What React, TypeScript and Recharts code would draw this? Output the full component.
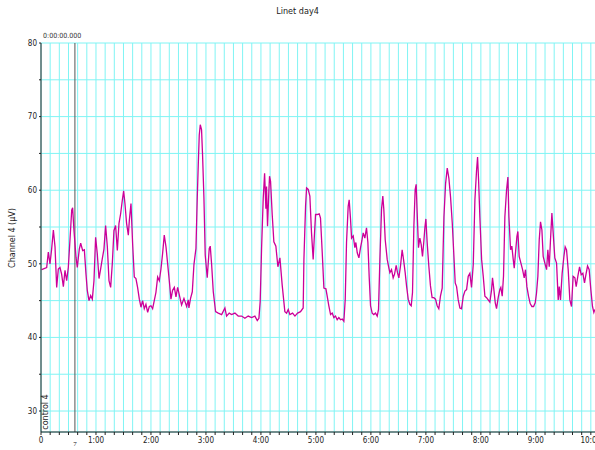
import React from "react";
import { LineChart, Line, XAxis, YAxis, CartesianGrid, ReferenceLine } from "recharts";

// elapsed time in seconds
const secs = [
  0.7, 6.2, 8, 9.8, 11.6, 13.5, 15.3, 17.1, 18.9, 20.7, 22.5, 24.4, 26.2, 28, 29.8, 31.6, 33.5, 34.5, 36, 38.2,
  39.6, 41.8, 43.3, 45.5, 47.3, 49.1, 50.5, 52.4, 54.2, 56, 57.8, 59.6, 61.4, 63.3, 65.1, 66.9, 68.7, 70.5, 72.4, 74.2,
  76, 77.8, 79.6, 81.4, 83.3, 85.1, 86.9, 88.7, 90.2, 91.6, 93.4, 95.3, 96.4, 98.2, 100, 101.8, 103.6, 105.4, 107.3, 109.1,
  110.9, 112.7, 114.5, 116.4, 118.2, 120, 121.8, 123.6, 125.4, 127.3, 129.1, 130.9, 132.7, 134.5, 136.4, 138.2, 140, 141.8, 143.6, 145.5,
  147.3, 149.1, 153.4, 156, 158.9, 160.7, 161.4, 163.2, 165.1, 166.9, 169.1, 170.5, 171.6, 172.7, 173.8, 175.2, 176.3, 177.8, 179.2, 181.4,
  183.6, 184.7, 186.2, 188, 190.5, 193.4, 197.1, 200.7, 202.5, 205.4, 208, 211.6, 215.2, 218.9, 222.5, 226.1, 229.8, 233.4, 236, 237.8,
  239.2, 240.7, 242.5, 244, 245.4, 246.1, 247.2, 248.7, 249.4, 250.5, 252.3, 254.1, 256.3, 258.5, 260.7, 263.2, 266.1, 268, 269.8, 271.6,
  274.5, 277.1, 280, 283.2, 286.1, 286.9, 288.7, 289.8, 291.6, 293.4, 295.2, 297, 298.1, 299.6, 301.4, 303.6, 305, 306.9, 308.7, 310.9,
  312.3, 314.1, 316, 317.8, 319.6, 321.4, 323.2, 325, 326.9, 328.7, 330.5, 332, 333.4, 335.2, 336.3, 337.8, 338.9, 340.7, 342.5, 343.6,
  345.1, 346.9, 348.7, 350.1, 351.6, 353.4, 355.2, 356.7, 358.1, 359.6, 361.4, 363.2, 365, 366.9, 368.3, 369.8, 371.6, 373, 374.1, 375.6,
  377.8, 379.2, 380.7, 382.5, 384.3, 385.8, 387.6, 389, 390.5, 392.3, 394.1, 395.6, 397.4, 398.9, 400.7, 402.5, 404, 405.4, 406.9, 408.3,
  409.4, 410.5, 411.9, 413.4, 414.9, 416.3, 417.8, 418.9, 420, 421.4, 423.2, 425, 426.8, 428.7, 430.5, 432.3, 434.1, 435.9, 437.8, 439.7,
  441.5, 443.3, 445.1, 446.9, 448.8, 450.6, 452, 453.5, 455.3, 457.1, 458.9, 460.8, 462.6, 464.4, 466.2, 468, 469.8, 471.7, 473.5, 475.3,
  476.4, 477.5, 478.9, 480.8, 482.6, 484.4, 486.2, 488, 489.8, 491.7, 492.7, 494.2, 495.7, 497.1, 498.9, 500.7, 501.8, 503.3, 504.7, 506.2,
  508, 509.5, 510.6, 512.4, 513.8, 515.3, 516.4, 517.8, 519.3, 520.4, 521.8, 523.7, 525.5, 527.3, 528.7, 530.2, 532, 533.8, 535.7, 537.5,
  539.3, 540.7, 542.2, 543.7, 545.1, 546.6, 548, 549.8, 551.7, 553.1, 554.6, 556, 557.5, 558.9, 560.7, 562.6, 564.4, 565.5, 566.9, 568.7,
  570.6, 572, 573.5, 575.3, 577.1, 578.9, 580.7, 582.6, 584, 585.8, 587.7, 589.5, 591.3, 593.1, 594.6, 596.4, 598.2, 600, 601.8, 603.3,
  604.4,
];

// Channel 4 amplitude (µV)
const channel4 = [
  49.2, 49.5, 51.6, 50.0, 52.0, 54.6, 52.3, 46.8, 49.3, 49.5, 48.6, 46.9, 49.1, 47.7, 49.5, 53.2, 57.3, 57.6, 54.5, 50.9,
  49.5, 52, 52.8, 51.8, 51.9, 48.6, 46.4, 45, 45.7, 45.2, 47.7, 53.6, 51.4, 48, 49.3, 50.7, 52, 55.2, 52.3, 47.7,
  46.8, 50, 54.5, 55.2, 51.8, 55.5, 56.8, 58.6, 59.9, 58.2, 55.5, 53.9, 55.9, 58.2, 52.7, 48.2, 48, 46.8, 45.2, 44.1,
  45, 43.9, 44.5, 43.4, 44.2, 44.3, 43.9, 45, 46.1, 48.2, 47.7, 49.3, 51.4, 53.9, 52.3, 50, 47.7, 45.2, 46.4, 46.8,
  45.5, 46.8, 44.4, 45.3, 44.2, 45.1, 44.0, 45.3, 46.2, 49.9, 52.1, 58.9, 63.4, 67.5, 68.9, 68.2, 64.8, 58.9, 51.2, 48.1,
  52.1, 52.4, 49.9, 46.2, 43.5, 43.3, 43.1, 44.0, 42.9, 43.3, 43.1, 43.3, 42.9, 42.9, 42.6, 42.9, 42.7, 42.9, 42.3, 42.6,
  44.9, 52.1, 58.9, 62.3, 57.5, 60.5, 55.1, 60, 61.9, 61.2, 56.7, 53.0, 52.4, 49.6, 50.8, 47.1, 43.5, 43.3, 43.8, 43.1,
  43.3, 42.9, 43.3, 43.5, 44.0, 50.6, 57.8, 60.3, 60.1, 59.2, 54.2, 50.6, 53.3, 56.7, 56.7, 56.8, 56.2, 51.5, 46.7, 46.6,
  45.6, 44.3, 43.1, 43.3, 42.7, 42.9, 42.4, 42.7, 42.4, 42.5, 42.2, 45.2, 52.9, 57.8, 58.7, 56, 53.5, 53.8, 52.2, 52.9,
  51.5, 50.8, 52.2, 53.1, 54.2, 53.5, 54.9, 52.9, 48.3, 44.3, 43.3, 43.1, 43.3, 42.9, 43.8, 50.6, 57.4, 59.2, 57.4, 53.3,
  50.6, 49.7, 48.8, 49.2, 48.1, 48.6, 49.8, 48.8, 48.1, 49.7, 51.9, 50.6, 48.8, 47, 45.2, 44.5, 44.3, 46.1, 55.1, 60.1,
  60.8, 56.9, 52.2, 53.5, 52.6, 51, 53.1, 54.9, 56.1, 52.9, 49.7, 47, 45.4, 45.4, 45.2, 44.3, 43.9, 45.6, 46.7, 56.4,
  60.9, 63, 61.6, 59.1, 55.5, 51, 47.4, 46.9, 45.1, 44, 43.9, 45.6, 46.3, 46.5, 48.3, 48.7, 46.8, 49.9, 58.7, 62.7,
  64.5, 61.4, 56.4, 50.6, 48.3, 45.6, 45.4, 45.1, 44.8, 46.5, 48.1, 46.5, 44.7, 43.9, 45.4, 46.5, 46.8, 45.6, 48.3, 56.4,
  60, 61.8, 56.4, 51.9, 52.4, 50.6, 49.4, 51.5, 53.7, 54.4, 51, 50.1, 49.2, 48.1, 49.2, 46.9, 45.6, 44.6, 44.2, 44.2,
  44.7, 46, 48.3, 53.3, 55.7, 54.6, 51, 50.1, 49.2, 51.9, 49.6, 53.3, 56.9, 54.2, 50.8, 50.1, 45.1, 46.9, 45.1, 48.7,
  51, 52.3, 51.9, 49.2, 45.1, 44.2, 48.3, 48.1, 46.9, 48.3, 49.6, 48.5, 48.7, 47.4, 48.5, 49.7, 49.2, 46.5, 44.2, 43.4,
  43.8,
];

const yTicks = [30, 35, 40, 45, 50, 55, 60, 65, 70, 75, 80];
const yLabels = [30, 40, 50, 60, 70, 80];
const minuteLabels = ["0", "1:00", "2:00", "3:00", "4:00", "5:00", "6:00", "7:00", "8:00", "9:00", "10:00"];
const markerTime = 37;
const markerLabel = "7";

const data = secs.map((t, i) => ({ t, v: channel4[i] }));
const xTicks = Array.from({ length: 62 }, (_, i) => i * 10);

const narrow = "'Liberation Sans Narrow', 'DejaVu Sans Condensed', sans-serif";

const fmtX = (t: number) => (t % 60 === 0 ? minuteLabels[t / 60] : "");
const fmtY = (v: number) => (yLabels.includes(v) ? String(v) : "");

export default function App() {
  return (
    <div style={{ position: "absolute", left: 0, top: 0, width: 595, height: 450, overflow: "hidden", background: "#fff" }}>
      <div style={{ position: "absolute", left: 0, width: 595, top: 6, textAlign: "center", fontFamily: narrow, fontSize: 9, color: "#222" }}>
        Linet day4
      </div>
      <div style={{ position: "absolute", left: 43, top: 32, fontFamily: narrow, fontSize: 7, color: "#333" }}>0:00:00.000</div>
      <div
        style={{
          position: "absolute", left: 12, top: 238, transform: "translate(-50%, -50%) rotate(-90deg)",
          whiteSpace: "nowrap", fontFamily: "'DejaVu Sans', sans-serif", fontSize: 8, color: "#222",
        }}
      >
        Channel 4 (µV)
      </div>
      <div
        style={{
          position: "absolute", left: 45, top: 412, transform: "translate(-50%, -50%) rotate(-90deg)",
          whiteSpace: "nowrap", fontFamily: "'DejaVu Sans', sans-serif", fontSize: 8, color: "#222", zIndex: 2,
        }}
      >
        control 4
      </div>
      <LineChart width={620} height={450} data={data} margin={{ top: 43, right: 20, bottom: 0, left: 0 }}>
        <CartesianGrid stroke="#80f4f4" strokeWidth={1} />
        <XAxis
          dataKey="t"
          type="number"
          domain={[0, 610]}
          ticks={xTicks}
          tickFormatter={fmtX}
          interval={0}
          height={18}
          stroke="#222"
          tickSize={3}
          tick={{ fontSize: 8, fontFamily: narrow, fill: "#222" }}
        />
        <YAxis
          type="number"
          domain={[27.15, 80]}
          ticks={yTicks}
          tickFormatter={fmtY}
          interval={0}
          width={41}
          stroke="#222"
          tickSize={2}
          tick={{ fontSize: 8, fontFamily: narrow, fill: "#222" }}
          allowDataOverflow
        />
        <ReferenceLine
          x={markerTime}
          stroke="#555"
          strokeWidth={1}
          label={{ value: markerLabel, position: "bottom", offset: 9, fontSize: 7, fill: "#222" }}
        />
        <Line type="linear" dataKey="v" stroke="#cc0099" strokeWidth={1.3} dot={false} isAnimationActive={false} />
      </LineChart>
    </div>
  );
}
